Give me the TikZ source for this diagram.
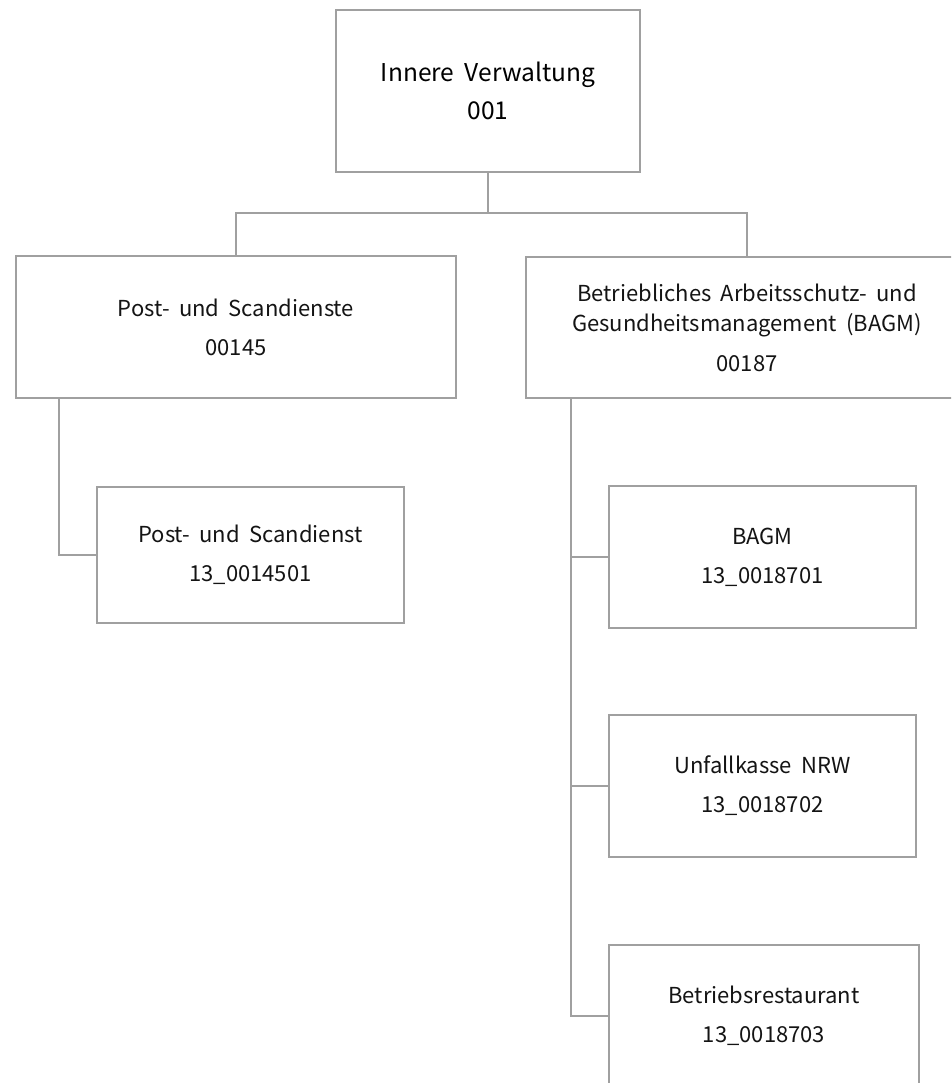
\documentclass[tikz,border=0pt]{standalone}
\usepackage{fontspec}
\setmainfont[WordSpace=1.9]{Noto Sans CJK KR}
\usepackage{xcolor}
\usepackage{tikz}
\usetikzlibrary{positioning, calc}
\definecolor{orgline}{RGB}{160,160,160}
\definecolor{orgtext}{RGB}{20,20,20}

\begin{document}
\begin{tikzpicture}[x=1pt, y=-1pt,
  unit/.style={draw=orgline, line width=1.6pt, fill=white, align=center, inner sep=0pt, text=orgtext, font=\fontsize{22}{39}\selectfont},
  head/.style={unit, text=black, font=\fontsize{24.5}{38}\selectfont},
  link/.style={draw=orgline, line width=1.6pt}]
  \useasboundingbox (0,0) rectangle (951,1083);
  \clip (0,0) rectangle (951,1083);
  \node[head, minimum width=304pt, minimum height=162pt] (iv) at (488,91) {Innere Verwaltung\\001};
  \node[unit, minimum width=440pt, minimum height=142pt] (psd) at (236,327) {Post- und Scandienste\\00145};
  \node[unit, minimum width=442pt, minimum height=141pt, font=\fontsize{22}{30}\selectfont] (bagm) at (747,327.5) {Betriebliches Arbeitsschutz- und\\Gesundheitsmanagement (BAGM)\\[10pt]00187};
  \node[unit, minimum width=307pt, minimum height=136pt] (psd1) at (250.5,555) {Post- und Scandienst\\13\_0014501};
  \node[unit, minimum width=307pt, minimum height=142pt] (bagm1) at (762.5,557) {BAGM\\13\_0018701};
  \node[unit, minimum width=307pt, minimum height=142pt] (bagm2) at (762.5,786) {Unfallkasse NRW\\13\_0018702};
  \node[unit, minimum width=310pt, minimum height=142pt] (bagm3) at (764,1016) {Betriebsrestaurant\\13\_0018703};
  \coordinate (split) at ($(iv.south)+(0,40)$);
  \draw[link] (iv.south) -- (split);
  \draw[link] (split) -| (psd.north);
  \draw[link] (split) -| (bagm.north);
  \draw[link] ([xshift=44pt]psd.south west) |- (psd1.west);
  \draw[link] ([xshift=46pt]bagm.south west) |- (bagm1.west);
  \draw[link] ([xshift=46pt]bagm.south west) |- (bagm2.west);
  \draw[link] ([xshift=46pt]bagm.south west) |- (bagm3.west);
\end{tikzpicture}
\end{document}
